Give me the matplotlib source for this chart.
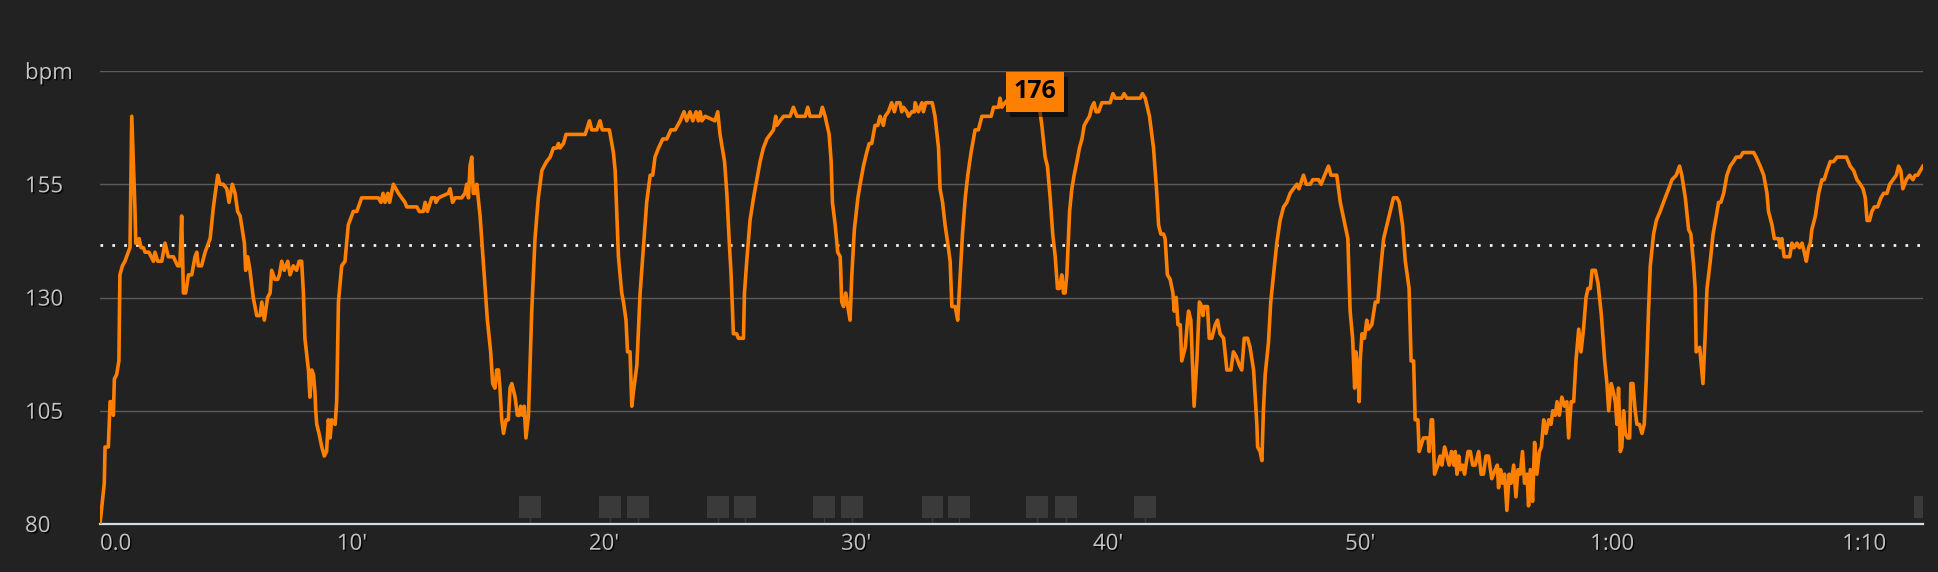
import numpy as np
import matplotlib
matplotlib.use("Agg")
import matplotlib.pyplot as plt
import matplotlib.patheffects as pe
from matplotlib.patches import Rectangle
from matplotlib.transforms import blended_transform_factory

plt.rcParams['font.family'] = ['Open Sans', 'DejaVu Sans']

# heart rate trace, time in minutes in chunks
seg1_min = [
    0.00, 0.17, 0.20, 0.33, 0.40, 0.49, 0.53, 0.57, 0.66, 0.75,
    0.79, 0.89, 0.99, 1.12, 1.19, 1.26, 1.39, 1.42, 1.52, 1.55,
    1.63, 1.72, 1.79, 1.94, 2.12, 2.18, 2.29, 2.45, 2.58, 2.71,
    2.91, 3.08, 3.17, 3.24, 3.31, 3.40, 3.51, 3.64, 3.77, 3.84,
    3.90, 4.03, 4.17, 4.37, 4.50, 4.67, 4.76, 4.89, 5.03, 5.12,
    5.25, 5.36, 5.46, 5.56, 5.73, 5.78, 5.86, 5.95, 6.08, 6.22,
    6.35, 6.42, 6.52, 6.65, 6.75, 6.81, 6.94, 7.05, 7.12, 7.21,
    7.31, 7.45, 7.54, 7.67, 7.80, 7.90, 8.00, 8.07, 8.13, 8.27,
    8.33, 8.40, 8.47, 8.53, 8.56, 8.60, 8.69, 8.80, 8.90, 8.99,
    9.06, 9.13, 9.19, 9.33, 9.39, 9.46, 9.59, 9.72, 9.85, 10.05,
    10.19, 10.38, 10.52, 11.04, 11.15, 11.23, 11.31, 11.42, 11.49, 11.64,
    11.84, 11.97, 12.10,
]
seg1_bpm = [
    80, 89, 97, 97, 107, 107, 104, 112, 113, 116,
    135, 137, 138, 140, 141, 170, 149, 142, 142, 143,
    141, 141, 140, 140, 138, 140, 138, 138, 142, 139,
    139, 137, 137, 148, 131, 131, 135, 135, 139, 140,
    137, 137, 140, 143, 150, 157, 155, 155, 154, 151,
    155, 153, 149, 148, 142, 136, 139, 136, 130, 126,
    126, 129, 125, 130, 131, 136, 134, 134, 135, 138,
    136, 138, 135, 137, 136, 138, 138, 131, 121, 114,
    108, 114, 113, 109, 105, 102, 100, 97, 95, 96,
    103, 99, 103, 102, 107, 129, 137, 138, 146, 149,
    149, 152, 152, 152, 151, 153, 151, 153, 151, 155,
    153, 152, 151,
]

seg2_min = [
    12.17, 12.57, 12.67, 12.83, 12.90, 12.99, 13.16, 13.29, 13.33, 13.43,
    13.82, 13.89, 13.99, 14.09, 14.22, 14.35, 14.48, 14.55, 14.62, 14.68,
    14.75, 14.81, 14.88, 14.95, 15.08, 15.28, 15.37, 15.50, 15.58, 15.67,
    15.74, 15.81, 15.87, 15.94, 16.01, 16.11, 16.20, 16.27, 16.34, 16.47,
    16.56, 16.64, 16.69, 16.77, 16.83, 16.90, 17.00, 17.13, 17.26, 17.39,
    17.53, 17.62, 17.72, 17.86, 17.99, 18.12, 18.19, 18.25, 18.39, 18.49,
    18.58, 19.25, 19.42, 19.51, 19.71, 19.84, 19.93, 20.21, 20.37, 20.44,
    20.57, 20.70, 20.77, 20.87, 20.93, 21.03, 21.10, 21.16, 21.30, 21.43,
    21.56, 21.69, 21.83, 21.93, 22.02, 22.16, 22.33, 22.49, 22.65, 22.82,
    23.02, 23.17, 23.28, 23.41, 23.52, 23.65, 23.74, 23.81, 23.88, 24.01,
]
seg2_bpm = [
    150, 150, 149, 149, 151, 149, 152, 152, 151, 152,
    153, 154, 151, 152, 152, 152, 153, 155, 152, 159,
    161, 153, 153, 155, 148, 132, 125, 118, 111, 110,
    114, 114, 110, 103, 100, 103, 103, 110, 111, 108,
    104, 104, 106, 104, 106, 99, 104, 127, 143, 152,
    158, 159, 160, 161, 163, 163, 164, 163, 164, 166,
    166, 166, 169, 167, 167, 169, 167, 167, 162, 158,
    139, 131, 129, 125, 118, 118, 106, 109, 115, 131,
    141, 151, 157, 157, 161, 163, 165, 165, 167, 167,
    169, 171, 169, 171, 169, 171, 169, 171, 169, 170,
]

seg3_min = [
    24.40, 24.51, 24.60, 24.78, 24.87, 24.96, 25.04, 25.13, 25.26, 25.33,
    25.53, 25.57, 25.66, 25.79, 25.93, 26.06, 26.19, 26.32, 26.46, 26.59,
    26.72, 26.81, 26.85, 26.98, 27.12, 27.38, 27.51, 27.65, 27.98, 28.08,
    28.17, 28.57, 28.66, 28.77, 28.93, 29.01, 29.06, 29.17, 29.27, 29.37,
    29.43, 29.50, 29.59, 29.67, 29.76, 29.83, 29.93, 30.07, 30.16, 30.29,
    30.42, 30.52, 30.62, 30.75, 30.86, 30.95, 31.08, 31.15, 31.28, 31.41,
    31.52, 31.61, 31.74, 31.81, 31.88, 32.01, 32.08, 32.21, 32.31, 32.34,
    32.47, 32.61, 32.67, 32.76, 33.02, 33.13, 33.27, 33.33, 33.43, 33.53,
    33.66, 33.73, 33.80, 33.93, 34.03, 34.13, 34.22, 34.33, 34.43, 34.56,
    34.72, 34.85, 34.99, 35.36, 35.45, 35.65, 35.71, 35.78, 35.91, 36.07,
    36.24, 36.64, 37.10,
]
seg3_bpm = [
    169, 171, 166, 160, 153, 143, 135, 122, 122, 121,
    121, 131, 138, 147, 152, 156, 160, 163, 165, 166,
    167, 170, 168, 169, 170, 170, 172, 170, 170, 172,
    170, 170, 172, 170, 166, 160, 151, 146, 140, 139,
    129, 128, 131, 128, 125, 135, 145, 152, 155, 159,
    162, 164, 164, 168, 168, 170, 168, 170, 171, 173,
    171, 173, 173, 171, 172, 171, 170, 171, 171, 173,
    171, 173, 171, 173, 173, 170, 163, 154, 151, 146,
    141, 138, 128, 128, 125, 135, 144, 152, 157, 162,
    167, 167, 170, 170, 172, 172, 174, 172, 173, 174,
    174, 175, 176,
]

seg4_min = [
    37.27, 37.37, 37.50, 37.59, 37.70, 37.80, 37.90, 37.99, 38.07, 38.16,
    38.23, 38.29, 38.36, 38.47, 38.56, 38.65, 38.76, 38.86, 38.96, 39.05,
    39.15, 39.26, 39.35, 39.44, 39.52, 39.62, 39.75, 40.08, 40.19, 40.28,
    40.54, 40.63, 40.74, 41.27, 41.36, 41.47, 41.64, 41.80, 41.93, 42.00,
    42.09, 42.20, 42.26, 42.35, 42.46, 42.57, 42.62, 42.70, 42.77, 42.86,
    42.92, 43.06, 43.15, 43.19, 43.28, 43.41, 43.52, 43.62, 43.72, 43.76,
    43.81, 43.94, 44.01, 44.11, 44.25, 44.34, 44.44, 44.58, 44.71, 44.87,
    44.97, 45.08, 45.21, 45.30, 45.40, 45.53, 45.63, 45.77, 45.90, 45.93,
    46.03, 46.10, 46.16, 46.23, 46.36, 46.45, 46.56, 46.69, 46.82, 46.96,
    47.09, 47.22, 47.35, 47.49, 47.57, 47.75, 47.86, 48.02, 48.12, 48.35,
]
seg4_bpm = [
    172, 168, 161, 159, 152, 144, 139, 132, 132, 135,
    131, 131, 135, 149, 154, 157, 160, 163, 165, 168,
    169, 170, 172, 173, 171, 171, 173, 173, 175, 174,
    174, 175, 174, 174, 175, 174, 170, 163, 153, 146,
    144, 144, 143, 135, 134, 131, 127, 130, 124, 124,
    116, 119, 125, 127, 125, 106, 116, 129, 128, 126,
    128, 128, 121, 121, 124, 125, 122, 121, 114, 114,
    118, 117, 115, 114, 121, 121, 119, 114, 102, 97,
    96, 94, 105, 113, 120, 129, 135, 142, 147, 150,
    151, 153, 154, 155, 154, 157, 155, 155, 156, 156,
]

seg5_min = [
    48.45, 48.59, 48.74, 48.84, 49.07, 49.21, 49.40, 49.51, 49.60, 49.70,
    49.78, 49.83, 49.91, 49.96, 50.00, 50.07, 50.17, 50.26, 50.33, 50.46,
    50.60, 50.70, 50.79, 50.93, 51.06, 51.19, 51.32, 51.46, 51.55, 51.68,
    51.79, 51.94, 52.02, 52.12, 52.18, 52.29, 52.34, 52.45, 52.51, 52.69,
    52.74, 52.82, 52.87, 52.95, 53.08, 53.17, 53.24, 53.35, 53.44, 53.53,
    53.62, 53.71, 53.77, 53.84, 53.91, 53.97, 54.06, 54.14, 54.28, 54.37,
    54.46, 54.56, 54.70, 54.80, 54.89, 54.99, 55.09, 55.22, 55.36, 55.44,
    55.49, 55.57, 55.65, 55.73, 55.82, 55.91, 55.99, 56.09, 56.18, 56.26,
    56.35, 56.44, 56.52, 56.62, 56.68, 56.75, 56.84, 56.92, 57.01, 57.11,
    57.19, 57.28, 57.37, 57.48, 57.57, 57.64, 57.74, 57.81, 57.90, 58.00,
    58.11, 58.20, 58.27, 58.37, 58.47, 58.56, 58.67, 58.76, 58.86, 58.96,
    59.04, 59.13, 59.20, 59.33, 59.44, 59.57, 59.70, 59.79, 59.86, 59.96,
    60.05, 60.12, 60.19, 60.25, 60.32,
]
seg5_bpm = [
    155, 157, 159, 157, 157, 151, 146, 143, 127, 121,
    110, 118, 113, 107, 116, 122, 121, 125, 123, 124,
    129, 129, 135, 143, 146, 149, 152, 152, 151, 146,
    138, 132, 116, 116, 103, 103, 96, 98, 99, 99,
    96, 103, 103, 91, 93, 95, 93, 97, 95, 93,
    96, 93, 96, 91, 95, 92, 93, 91, 96, 96,
    93, 93, 96, 91, 91, 95, 95, 90, 92, 93,
    88, 92, 89, 91, 83, 91, 89, 93, 86, 92,
    91, 96, 89, 91, 84, 92, 85, 98, 91, 96,
    97, 103, 100, 103, 102, 105, 104, 107, 104, 108,
    106, 107, 99, 107, 107, 116, 123, 118, 123, 130,
    132, 132, 136, 136, 133, 126, 116, 111, 105, 111,
    109, 107, 102, 110, 96,
]

seg6_min = [
    60.38, 60.45, 60.52, 60.61, 60.69, 60.74, 60.82, 60.91, 60.98, 61.08,
    61.18, 61.27, 61.35, 61.44, 61.51, 61.64, 61.75, 61.90, 62.10, 62.24,
    62.37, 62.54, 62.67, 62.76, 62.90, 63.03, 63.12, 63.23, 63.29, 63.33,
    63.47, 63.52, 63.60, 63.69, 63.76, 63.89, 64.00, 64.13, 64.22, 64.31,
    64.42, 64.55, 64.68, 64.81, 64.92, 65.08, 65.19, 65.61, 65.71, 65.87,
    66.01, 66.14, 66.20, 66.34, 66.43, 66.60, 66.67, 66.73, 66.82, 67.04,
    67.13, 67.22, 67.33, 67.43, 67.53, 67.62, 67.70, 67.79, 67.86, 67.92,
    68.06, 68.19, 68.32, 68.41, 68.52, 68.65, 68.78, 68.92, 69.29, 69.44,
    69.58, 69.71, 69.84, 69.95, 70.04, 70.11, 70.21, 70.30, 70.40, 70.53,
    70.66, 70.77, 70.90, 71.01, 71.14, 71.27, 71.36, 71.45, 71.53, 71.67,
    71.80, 71.93, 72.02, 72.12, 72.22, 72.33,
]
seg6_bpm = [
    97, 105, 100, 99, 99, 111, 111, 105, 102, 102,
    100, 102, 112, 127, 137, 144, 147, 149, 152, 154,
    156, 157, 159, 157, 152, 145, 144, 137, 132, 118,
    119, 116, 111, 122, 132, 138, 144, 148, 151, 151,
    153, 157, 159, 160, 161, 161, 162, 162, 161, 159,
    157, 153, 149, 146, 143, 143, 141, 143, 139, 139,
    142, 141, 142, 141, 142, 140, 138, 141, 142, 145,
    148, 153, 156, 156, 158, 160, 160, 161, 161, 159,
    158, 156, 155, 154, 152, 147, 147, 149, 150, 150,
    152, 153, 153, 155, 156, 157, 159, 158, 154, 156,
    157, 156, 157, 157, 158, 159,
]

avg_bpm = 141.6
lap_marks = [17.06, 20.23, 21.34, 24.51, 25.60, 28.73, 29.83, 33.03,
             34.09, 37.19, 38.32, 41.47, 72.42]

y_ticks = [80, 105, 130, 155, 180]
y_labels = ['80', '105', '130', '155', 'bpm']
x_ticks = [0, 10, 20, 30, 40, 50, 60, 70]
x_labels = ['0.0', "10'", "20'", "30'", "40'", "50'", '1:00', '1:10']

minutes = np.concatenate([seg1_min, seg2_min, seg3_min, seg4_min, seg5_min, seg6_min])
bpm = np.concatenate([seg1_bpm, seg2_bpm, seg3_bpm, seg4_bpm, seg5_bpm, seg6_bpm])

bg = '#222222'
orange = '#ff7f00'
label_col = '#c4c4c4'
shadow = [pe.withSimplePatchShadow(offset=(1, -1), shadow_rgbFace='black', alpha=0.9)]

fig = plt.figure(figsize=(19.38, 5.72), dpi=100, facecolor=bg)
ax = fig.add_axes([100 / 1938, 48 / 572, 1823 / 1938, 453 / 572])
ax.set_facecolor(bg)
ax.set_xlim(0, minutes[-1])
ax.set_ylim(80, 180)

for y in y_ticks[1:]:
    ax.axhline(y, color='#5c5c5c', lw=1.0, zorder=1)
ax.axhline(avg_bpm, color='white', lw=1.9, ls=(0, (1, 3.5)), zorder=2)

# lap markers along the bottom
trans = blended_transform_factory(ax.transData, ax.transAxes)
w = 0.87
for t in lap_marks:
    ax.add_patch(Rectangle((t - w / 2, 0.0132), w, 0.0486, transform=trans,
                           facecolor='#3a3a3a', lw=0, zorder=2))
    ax.plot([t, t], [0.004, 0.0132], transform=trans, color='#3a3a3a', lw=1, zorder=2)

ax.plot(minutes, bpm, color=orange, lw=2.6, zorder=3)

i = int(np.argmax(bpm))
txt = ax.text(minutes[i], bpm[i] - 0.6, str(bpm[i]), ha='center', va='center',
              fontsize=18, fontweight='bold', color='black', zorder=6, clip_on=False,
              bbox=dict(boxstyle='square,pad=0.3', fc=orange, ec='none'))
txt.get_bbox_patch().set_path_effects(
    [pe.withSimplePatchShadow(offset=(3, -4), shadow_rgbFace='black', alpha=0.5)])

for s in ['top', 'right', 'left']:
    ax.spines[s].set_visible(False)
ax.spines['bottom'].set_color('#cfdcea')
ax.spines['bottom'].set_linewidth(1.6)

ax.set_yticks(y_ticks, y_labels)
ax.set_xticks(x_ticks, x_labels)
ax.tick_params(axis='y', length=0, pad=54, labelcolor=label_col, labelsize=16)
ax.tick_params(axis='x', length=0, pad=7, labelcolor=label_col, labelsize=16)
for lab in ax.get_yticklabels():
    lab.set_ha('left')
    lab.set_path_effects(shadow)
for lab in ax.get_xticklabels():
    lab.set_path_effects(shadow)
ax.get_xticklabels()[0].set_ha('left')

fig.savefig('out.png', dpi=100, facecolor=bg)
